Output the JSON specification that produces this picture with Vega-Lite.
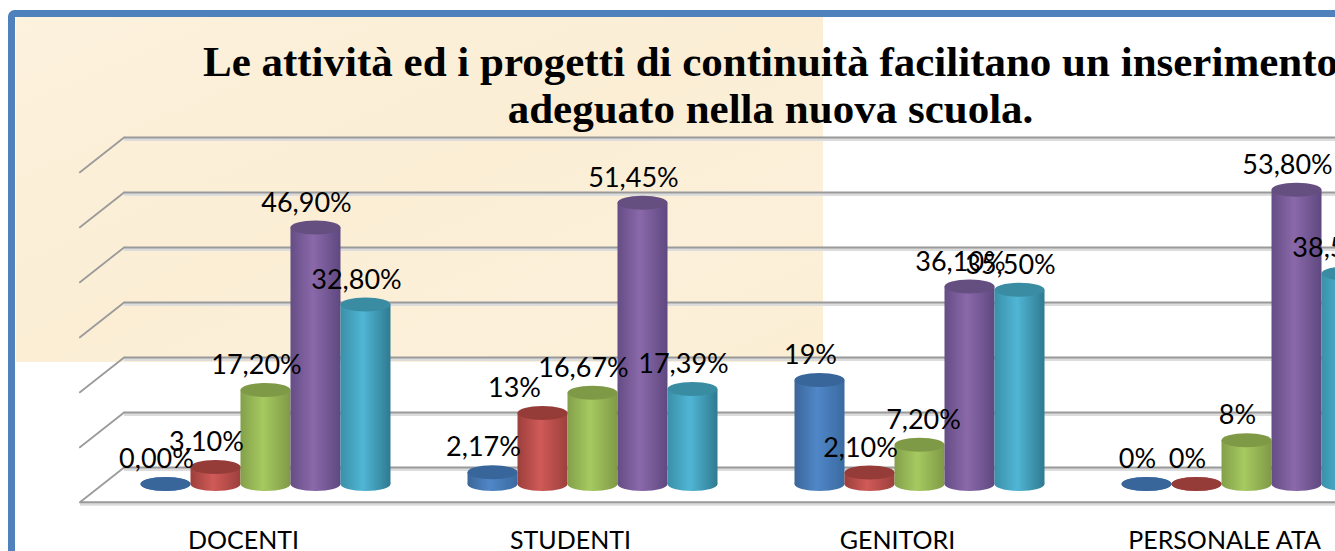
{
"$schema":"https://vega.github.io/schema/vega-lite/v6.json",
"width":1335,"height":551,"padding":0,"autosize":{"type":"none"},"background":"white",
"config":{"view":{"stroke":null},"font":"Lato"},
"title":{"text":["Le attività ed i progetti di continuità facilitano un inserimento","adeguato nella nuova scuola."],"anchor":"middle","dx":103,"offset":-132,"baseline":"top","font":"Liberation Serif","fontWeight":"bold","fontSize":43,"lineHeight":47,"color":"#000000"},
"datasets":{
"valori":[
{"gruppo":"DOCENTI","serie":"A","valore":0,"etichetta":"0,00%"},
{"gruppo":"DOCENTI","serie":"B","valore":3.1,"etichetta":"3,10%"},
{"gruppo":"DOCENTI","serie":"C","valore":17.2,"etichetta":"17,20%"},
{"gruppo":"DOCENTI","serie":"D","valore":46.9,"etichetta":"46,90%"},
{"gruppo":"DOCENTI","serie":"E","valore":32.8,"etichetta":"32,80%"},
{"gruppo":"STUDENTI","serie":"A","valore":2.17,"etichetta":"2,17%"},
{"gruppo":"STUDENTI","serie":"B","valore":13,"etichetta":"13%"},
{"gruppo":"STUDENTI","serie":"C","valore":16.67,"etichetta":"16,67%"},
{"gruppo":"STUDENTI","serie":"D","valore":51.45,"etichetta":"51,45%"},
{"gruppo":"STUDENTI","serie":"E","valore":17.39,"etichetta":"17,39%"},
{"gruppo":"GENITORI","serie":"A","valore":19,"etichetta":"19%"},
{"gruppo":"GENITORI","serie":"B","valore":2.1,"etichetta":"2,10%"},
{"gruppo":"GENITORI","serie":"C","valore":7.2,"etichetta":"7,20%"},
{"gruppo":"GENITORI","serie":"D","valore":36.1,"etichetta":"36,10%"},
{"gruppo":"GENITORI","serie":"E","valore":35.5,"etichetta":"35,50%"},
{"gruppo":"PERSONALE ATA","serie":"A","valore":0,"etichetta":"0%"},
{"gruppo":"PERSONALE ATA","serie":"B","valore":0,"etichetta":"0%"},
{"gruppo":"PERSONALE ATA","serie":"C","valore":8,"etichetta":"8%"},
{"gruppo":"PERSONALE ATA","serie":"D","valore":53.8,"etichetta":"53,80%"},
{"gruppo":"PERSONALE ATA","serie":"E","valore":38.5,"etichetta":"38,50%"}
],
"griglia":[
{"livello":0,"xf":0.0929,"v":0},{"livello":0,"xf":0.0599,"v":-6.3},
{"livello":10,"xf":0.0929,"v":10},{"livello":10,"xf":0.0599,"v":3.7},
{"livello":20,"xf":0.0929,"v":20},{"livello":20,"xf":0.0599,"v":13.7},
{"livello":30,"xf":0.0929,"v":30},{"livello":30,"xf":0.0599,"v":23.7},
{"livello":40,"xf":0.0929,"v":40},{"livello":40,"xf":0.0599,"v":33.7},
{"livello":50,"xf":0.0929,"v":50},{"livello":50,"xf":0.0599,"v":43.7},
{"livello":60,"xf":0.0929,"v":60},{"livello":60,"xf":0.0599,"v":53.7}
],
"orizzontali":[
{"v":0,"x1":0.0929,"x2":1.05},{"v":10,"x1":0.0929,"x2":1.05},{"v":20,"x1":0.0929,"x2":1.05},{"v":30,"x1":0.0929,"x2":1.05},{"v":40,"x1":0.0929,"x2":1.05},{"v":50,"x1":0.0929,"x2":1.05},{"v":60,"x1":0.0929,"x2":1.05},{"v":-6.3,"x1":0.0599,"x2":1.05}
]
},
"layer":[
{"data":{"values":[{"a":0.012,"b":0.6165,"c":0.031,"d":0.657}]},
 "mark":{"type":"rect","fill":{"gradient":"linear","x1":0,"y1":0,"x2":1,"y2":1,"stops":[{"offset":0,"color":"#fcf2de"},{"offset":0.25,"color":"#fcefd8"},{"offset":0.5,"color":"#fbeed5"},{"offset":0.75,"color":"#fcf0da"},{"offset":1,"color":"#fbeed4"}]}},
 "encoding":{"x":{"field":"a","type":"quantitative","scale":{"domain":[0,1]},"axis":null},"x2":{"field":"b"},"y":{"field":"c","type":"quantitative","scale":{"domain":[0,1],"reverse":true},"axis":null},"y2":{"field":"d"}}},
{"data":{"values":[{"a":0.0086,"b":1.1,"c":0.0245,"d":1.1}]},
 "mark":{"type":"rect","fill":null,"stroke":"#4f81bd","strokeWidth":7,"cornerRadius":3},
 "encoding":{"x":{"field":"a","type":"quantitative","scale":{"domain":[0,1]},"axis":null},"x2":{"field":"b"},"y":{"field":"c","type":"quantitative","scale":{"domain":[0,1],"reverse":true},"axis":null},"y2":{"field":"d"}}},
{"data":{"name":"griglia"},
 "mark":{"type":"line","stroke":"#9a9a9a","strokeWidth":1.8,"strokeCap":"square"},
 "encoding":{"x":{"field":"xf","type":"quantitative","scale":{"domain":[0,1]},"axis":null},"y":{"field":"v","type":"quantitative","scale":{"domain":[-15.18,85]},"axis":null},"detail":{"field":"livello"}}},
{"data":{"name":"orizzontali"},
 "mark":{"type":"rule","stroke":"#dcdcdc","strokeWidth":3,"yOffset":2},
 "encoding":{"x":{"field":"x1","type":"quantitative","scale":{"domain":[0,1]},"axis":null},"x2":{"field":"x2"},"y":{"field":"v","type":"quantitative","scale":{"domain":[-15.18,85]},"axis":null}}},
{"data":{"name":"orizzontali"},
 "mark":{"type":"rule","stroke":"#9a9a9a","strokeWidth":2},
 "encoding":{"x":{"field":"x1","type":"quantitative","scale":{"domain":[0,1]},"axis":null},"x2":{"field":"x2"},"y":{"field":"v","type":"quantitative","scale":{"domain":[-15.18,85]},"axis":null}}},
{"data":{"name":"valori"},
 "encoding":{
  "x":{"field":"gruppo","type":"nominal","sort":null,"title":null,"scale":{"range":[102,1410],"paddingInner":0.2355,"paddingOuter":0.1177},"axis":{"domain":false,"ticks":false,"labelAngle":0,"labelOffset":-22,"labelPadding":-11,"labelLimit":400,"labelFontSize":25,"labelColor":"#000000","labelFont":"Lato","labelBaseline":"middle"}},
  "xOffset":{"field":"serie","type":"nominal","sort":null},
  "y":{"field":"valore","type":"quantitative","scale":{"domain":[-12.25,88.5]},"axis":null}
 },
 "layer":[
 {"transform":[{"filter":"datum.serie=='A'"}],"mark":{"type":"point","filled":true,"opacity":1,"shape":"M-1,0A1,0.28,0,1,1,1,0A1,0.28,0,1,1,-1,0Z","size":2500,"fill":{"gradient":"linear","x1":0,"x2":1,"y1":0,"y2":0,"stops":[{"offset":0,"color":"#3b6699"},{"offset":0.45,"color":"#5087c8"},{"offset":1,"color":"#3a6aa0"}]}},"encoding":{"y":{"datum":0,"type":"quantitative"}}},
 {"transform":[{"filter":"datum.serie=='B'"}],"mark":{"type":"point","filled":true,"opacity":1,"shape":"M-1,0A1,0.28,0,1,1,1,0A1,0.28,0,1,1,-1,0Z","size":2500,"fill":{"gradient":"linear","x1":0,"x2":1,"y1":0,"y2":0,"stops":[{"offset":0,"color":"#9c3f3c"},{"offset":0.45,"color":"#d05a57"},{"offset":1,"color":"#9c403d"}]}},"encoding":{"y":{"datum":0,"type":"quantitative"}}},
 {"transform":[{"filter":"datum.serie=='C'"}],"mark":{"type":"point","filled":true,"opacity":1,"shape":"M-1,0A1,0.28,0,1,1,1,0A1,0.28,0,1,1,-1,0Z","size":2500,"fill":{"gradient":"linear","x1":0,"x2":1,"y1":0,"y2":0,"stops":[{"offset":0,"color":"#83a04a"},{"offset":0.45,"color":"#a6ca60"},{"offset":1,"color":"#7f9a47"}]}},"encoding":{"y":{"datum":0,"type":"quantitative"}}},
 {"transform":[{"filter":"datum.serie=='D'"}],"mark":{"type":"point","filled":true,"opacity":1,"shape":"M-1,0A1,0.28,0,1,1,1,0A1,0.28,0,1,1,-1,0Z","size":2500,"fill":{"gradient":"linear","x1":0,"x2":1,"y1":0,"y2":0,"stops":[{"offset":0,"color":"#654d85"},{"offset":0.45,"color":"#8a69aa"},{"offset":1,"color":"#5f4880"}]}},"encoding":{"y":{"datum":0,"type":"quantitative"}}},
 {"transform":[{"filter":"datum.serie=='E'"}],"mark":{"type":"point","filled":true,"opacity":1,"shape":"M-1,0A1,0.28,0,1,1,1,0A1,0.28,0,1,1,-1,0Z","size":2500,"fill":{"gradient":"linear","x1":0,"x2":1,"y1":0,"y2":0,"stops":[{"offset":0,"color":"#3a90a8"},{"offset":0.45,"color":"#50b6d5"},{"offset":1,"color":"#2f7a90"}]}},"encoding":{"y":{"datum":0,"type":"quantitative"}}},
 {"transform":[{"filter":"datum.serie=='A'"}],"mark":{"type":"bar","fill":{"gradient":"linear","x1":0,"x2":1,"y1":0,"y2":0,"stops":[{"offset":0,"color":"#3b6699"},{"offset":0.45,"color":"#5087c8"},{"offset":1,"color":"#3a6aa0"}]}},"encoding":{"y2":{"datum":0}}},
 {"transform":[{"filter":"datum.serie=='B'"}],"mark":{"type":"bar","fill":{"gradient":"linear","x1":0,"x2":1,"y1":0,"y2":0,"stops":[{"offset":0,"color":"#9c3f3c"},{"offset":0.45,"color":"#d05a57"},{"offset":1,"color":"#9c403d"}]}},"encoding":{"y2":{"datum":0}}},
 {"transform":[{"filter":"datum.serie=='C'"}],"mark":{"type":"bar","fill":{"gradient":"linear","x1":0,"x2":1,"y1":0,"y2":0,"stops":[{"offset":0,"color":"#83a04a"},{"offset":0.45,"color":"#a6ca60"},{"offset":1,"color":"#7f9a47"}]}},"encoding":{"y2":{"datum":0}}},
 {"transform":[{"filter":"datum.serie=='D'"}],"mark":{"type":"bar","fill":{"gradient":"linear","x1":0,"x2":1,"y1":0,"y2":0,"stops":[{"offset":0,"color":"#654d85"},{"offset":0.45,"color":"#8a69aa"},{"offset":1,"color":"#5f4880"}]}},"encoding":{"y2":{"datum":0}}},
 {"transform":[{"filter":"datum.serie=='E'"}],"mark":{"type":"bar","fill":{"gradient":"linear","x1":0,"x2":1,"y1":0,"y2":0,"stops":[{"offset":0,"color":"#3a90a8"},{"offset":0.45,"color":"#50b6d5"},{"offset":1,"color":"#2f7a90"}]}},"encoding":{"y2":{"datum":0}}},
 {"mark":{"type":"point","filled":true,"opacity":1,"shape":"M-1,0A1,0.28,0,1,1,1,0A1,0.28,0,1,1,-1,0Z","size":2500},"encoding":{
   "color":{"field":"serie","type":"nominal","legend":null,"scale":{"domain":["A","B","C","D","E"],"range":["#38659a","#953b38","#7f9a47","#654e80","#3a8ca3"]}}}},
 {"transform":[{"filter":"datum.etichetta!='13%' && datum.etichetta!='7,20%'"}],"mark":{"type":"text","font":"Lato","fontSize":27,"color":"#000000","dx":-9,"dy":-24},"encoding":{"text":{"field":"etichetta"}}},
 {"transform":[{"filter":"datum.etichetta=='13%'"}],"mark":{"type":"text","font":"Lato","fontSize":27,"color":"#000000","dx":-28,"dy":-24},"encoding":{"text":{"field":"etichetta"}}},
 {"transform":[{"filter":"datum.etichetta=='7,20%'"}],"mark":{"type":"text","font":"Lato","fontSize":27,"color":"#000000","dx":4,"dy":-24},"encoding":{"text":{"field":"etichetta"}}}
 ]}
],
"resolve":{"scale":{"x":"independent","y":"independent"}}
}
